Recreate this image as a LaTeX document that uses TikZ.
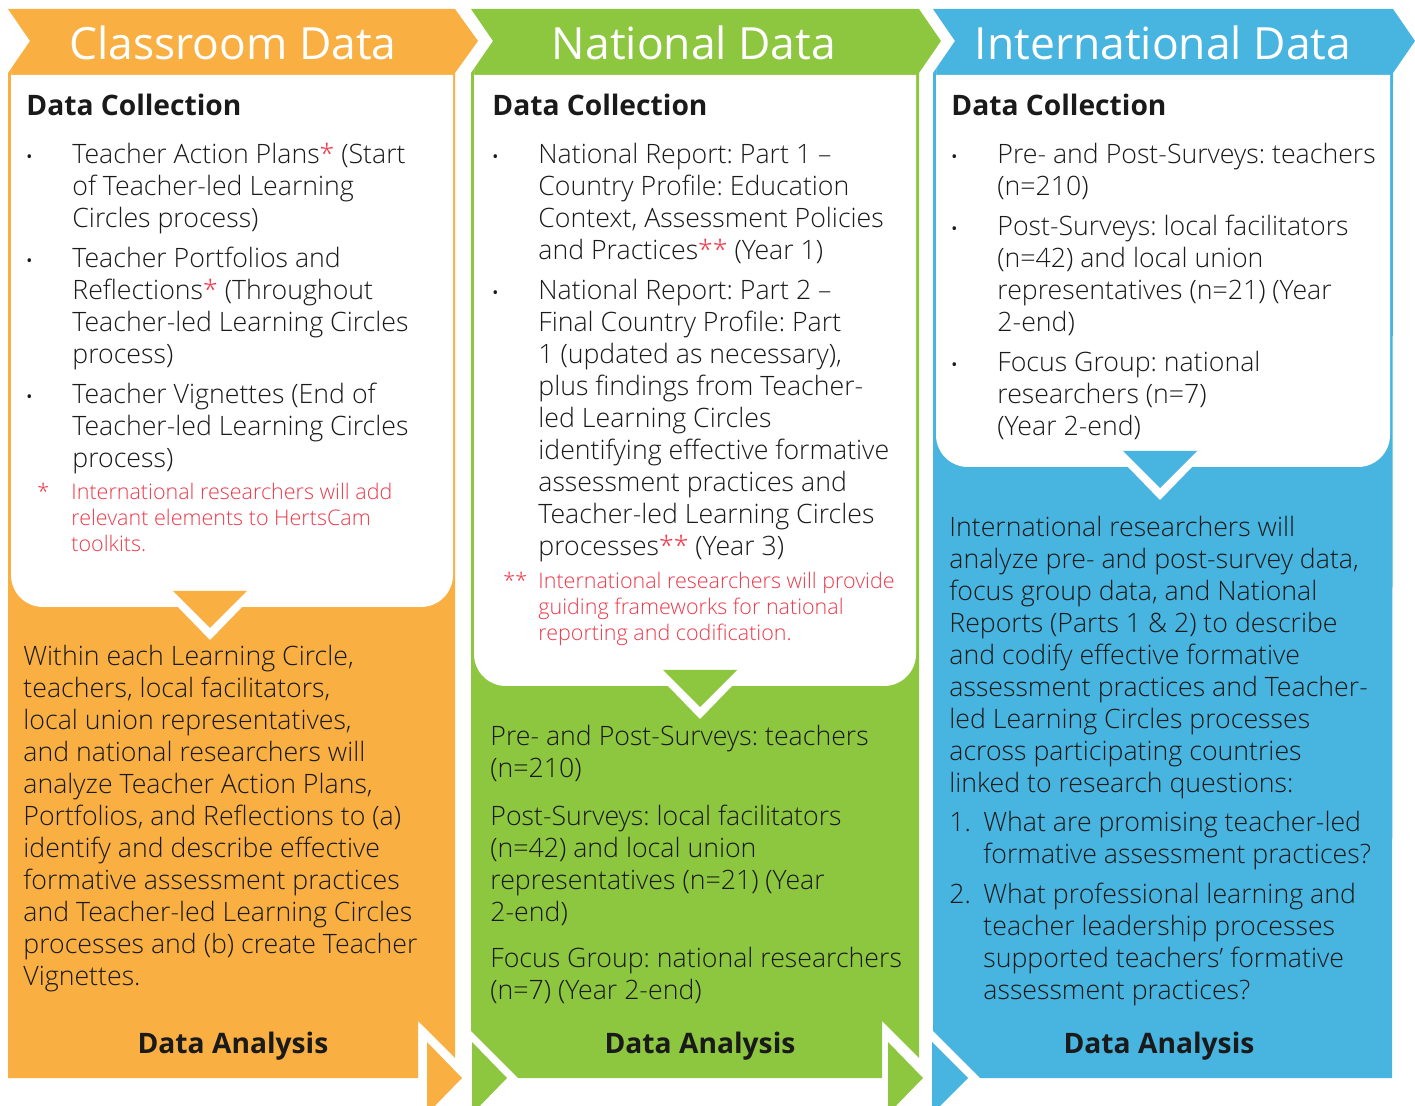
\documentclass[tikz,border=0pt]{standalone}
\usepackage{fontspec}
\setmainfont{Open Sans}
\newfontfamily\lightfont{Open Sans Light}
\frenchspacing
\definecolor{orangeC}{HTML}{F9AF42}
\definecolor{greenC}{HTML}{8DC63F}
\definecolor{blueC}{HTML}{48B4E0}
\definecolor{noteC}{HTML}{EC3A4B}
\definecolor{inkC}{HTML}{1A1A1A}
\newcommand{\st}[1]{\textcolor{noteC}{#1}}
\newcommand{\txtlines}[1]{\begin{tabular}[t]{@{}l@{}}#1\end{tabular}}
\begin{document}
\begin{tikzpicture}[x=0.5pt, y=-0.5pt, inner sep=0pt,
		titlestyle/.style={text=white, font=\fontsize{22.2}{27}\selectfont, anchor=base},
		headstyle/.style={text=inkC, font=\bfseries\fontsize{14.1}{17}\selectfont, anchor=base west},
		bodystyle/.style={text=inkC, font=\lightfont\fontsize{13.35}{16}\selectfont, anchor=base west},
		notestyle/.style={text=noteC, font=\lightfont\fontsize{10.75}{13}\selectfont, anchor=base west},
		dotstyle/.style={text=inkC, font=\fontsize{8}{10}\selectfont, anchor=base west},
		footstyle/.style={text=inkC, font=\bfseries\fontsize{14.1}{17}\selectfont, anchor=base}]

		\path[use as bounding box] (0,0) rectangle (1415,1106);
		\clip (0,0) rectangle (1415,1106);

		% columns with header arrows
		\fill[orangeC] (8,9) -- (455,9) -- (478,41) -- (455,73) -- (455,1058) -- (418,1021)
			-- (418,1078) -- (8,1078) -- (8,73) -- (30,41) -- cycle;
		\fill[greenC] (471,9) -- (919,9) -- (941,41) -- (919,73) -- (919,1058) -- (882,1021)
			-- (882,1078) -- (518,1078) -- (471,1031) -- (471,73) -- (493,41) -- cycle;
		\fill[blueC] (933,9) -- (1393,9) -- (1415,41) -- (1393,73) -- (1392,1078)
			-- (980,1078) -- (933,1031) -- (933,73) -- (955,41) -- cycle;

		% small arrows at the foot
		\fill[orangeC] (427,1042) -- (462,1078) -- (427,1114) -- cycle;
		\fill[greenC] (472,1042) -- (507,1078) -- (472,1114) -- cycle;
		\fill[greenC] (888,1042) -- (923,1078) -- (888,1114) -- cycle;
		\fill[blueC] (932,1042) -- (968,1078) -- (932,1114) -- cycle;

		% white boxes with pointers
		\foreach \l/\r/\b/\c/\col in {11/453/607/210/orangeC, 474/916/686/700/greenC, 936/1390/467/1160/blueC}
		{
			\fill[white] (\l,75) -- (\r,75) -- (\r,100) [rounded corners=16pt] -- (\r,\b)
				-- (\l,\b) -- (\l,100) [sharp corners] -- cycle;
			\fill[white] (\c-33,\b-1) -- (\c,\b+33) -- (\c+33,\b-1) -- cycle;
			\fill[\col] (\c-37,\b-16) -- (\c+37,\b-16) -- (\c,\b+21) -- cycle;
		}

		% titles
		\node[titlestyle] (t-class) at (233,60) {Classroom Data};
		\node[titlestyle] (t-nat) at (694,60) {National Data};
		\node[titlestyle] (t-int) at (1163,60) {International Data};

		% classroom data
		\node[headstyle] (c-dc) at (26,116) {Data Collection};
		\node[dotstyle] (c-d1) at (26,163) {\textbullet};
		\node[bodystyle] (c-i1) at (72,164) {\txtlines{Teacher Action Plans\st{*} (Start\\of Teacher-led Learning\\Circles process)}};
		\node[dotstyle] (c-d2) at (26,267) {\textbullet};
		\node[bodystyle] (c-i2) at (72,268) {\txtlines{Teacher Portfolios and\\Reflections\st{*} (Throughout\\Teacher-led Learning Circles\\process)}};
		\node[dotstyle] (c-d3) at (26,403) {\textbullet};
		\node[bodystyle] (c-i3) at (72,404) {\txtlines{Teacher Vignettes (End of\\Teacher-led Learning Circles\\process)}};
		\node[notestyle] (c-ns) at (37,500) {*};
		\node[notestyle] (c-nt) at (71,500) {\txtlines{International researchers will add\\relevant elements to HertsCam\\toolkits.}};
		\node[bodystyle] (c-da) at (23,666) {\txtlines{Within each Learning Circle,\\teachers, local facilitators,\\local union representatives,\\and national researchers will\\analyze Teacher Action Plans,\\Portfolios, and Reflections to (a)\\identify and describe effective\\formative assessment practices\\and Teacher-led Learning Circles\\processes and (b) create Teacher\\Vignettes.}};
		\node[footstyle] (c-an) at (233,1053) {Data Analysis};

		% national data
		\node[headstyle] (n-dc) at (492,116) {Data Collection};
		\node[dotstyle] (n-d1) at (492,163) {\textbullet};
		\node[bodystyle] (n-i1) at (538,164) {\txtlines{National Report: Part 1 –\\Country Profile: Education\\Context, Assessment Policies\\and Practices\st{**} (Year 1)}};
		\node[dotstyle] (n-d2) at (492,299) {\textbullet};
		\node[bodystyle] (n-i2) at (538,300) {\txtlines{National Report: Part 2 –\\Final Country Profile: Part\\1 (updated as necessary),\\plus findings from Teacher-\\led Learning Circles\\identifying effective formative\\assessment practices and\\Teacher-led Learning Circles\\processes\st{**} (Year 3)}};
		\node[notestyle] (n-ns) at (503,589) {**};
		\node[notestyle] (n-nt) at (538,589) {\txtlines{International researchers will provide\\guiding frameworks for national\\reporting and codification.}};
		\node[bodystyle] (n-da) at (490,746) {\txtlines{Pre- and Post-Surveys: teachers\\(n=210)\\[8pt]Post-Surveys: local facilitators\\(n=42) and local union\\representatives (n=21) (Year\\2-end)\\[7pt]Focus Group: national researchers\\(n=7) (Year 2-end)}};
		\node[footstyle] (n-an) at (700,1053) {Data Analysis};

		% international data
		\node[headstyle] (i-dc) at (951,116) {Data Collection};
		\node[dotstyle] (i-d1) at (951,163) {\textbullet};
		\node[bodystyle] (i-i1) at (997,164) {\txtlines{Pre- and Post-Surveys: teachers\\(n=210)}};
		\node[dotstyle] (i-d2) at (951,235) {\textbullet};
		\node[bodystyle] (i-i2) at (997,236) {\txtlines{Post-Surveys: local facilitators\\(n=42) and local union\\representatives (n=21) (Year\\2-end)}};
		\node[dotstyle] (i-d3) at (951,371) {\textbullet};
		\node[bodystyle] (i-i3) at (997,372) {\txtlines{Focus Group: national\\researchers (n=7)\\(Year 2-end)}};
		\node[bodystyle] (i-da) at (949,537) {\txtlines{International researchers will\\analyze pre- and post-survey data,\\focus group data, and National\\Reports (Parts 1 \& 2) to describe\\and codify effective formative\\assessment practices and Teacher-\\led Learning Circles processes\\across participating countries\\linked to research questions:}};
		\node[bodystyle] (i-q1n) at (949,832) {1.};
		\node[bodystyle] (i-q1) at (983,832) {\txtlines{What are promising teacher-led\\formative assessment practices?}};
		\node[bodystyle] (i-q2n) at (949,904) {2.};
		\node[bodystyle] (i-q2) at (983,904) {\txtlines{What professional learning and\\teacher leadership processes\\supported teachers’ formative\\assessment practices?}};
		\node[footstyle] (i-an) at (1159,1053) {Data Analysis};

		\end{tikzpicture}
\end{document}
